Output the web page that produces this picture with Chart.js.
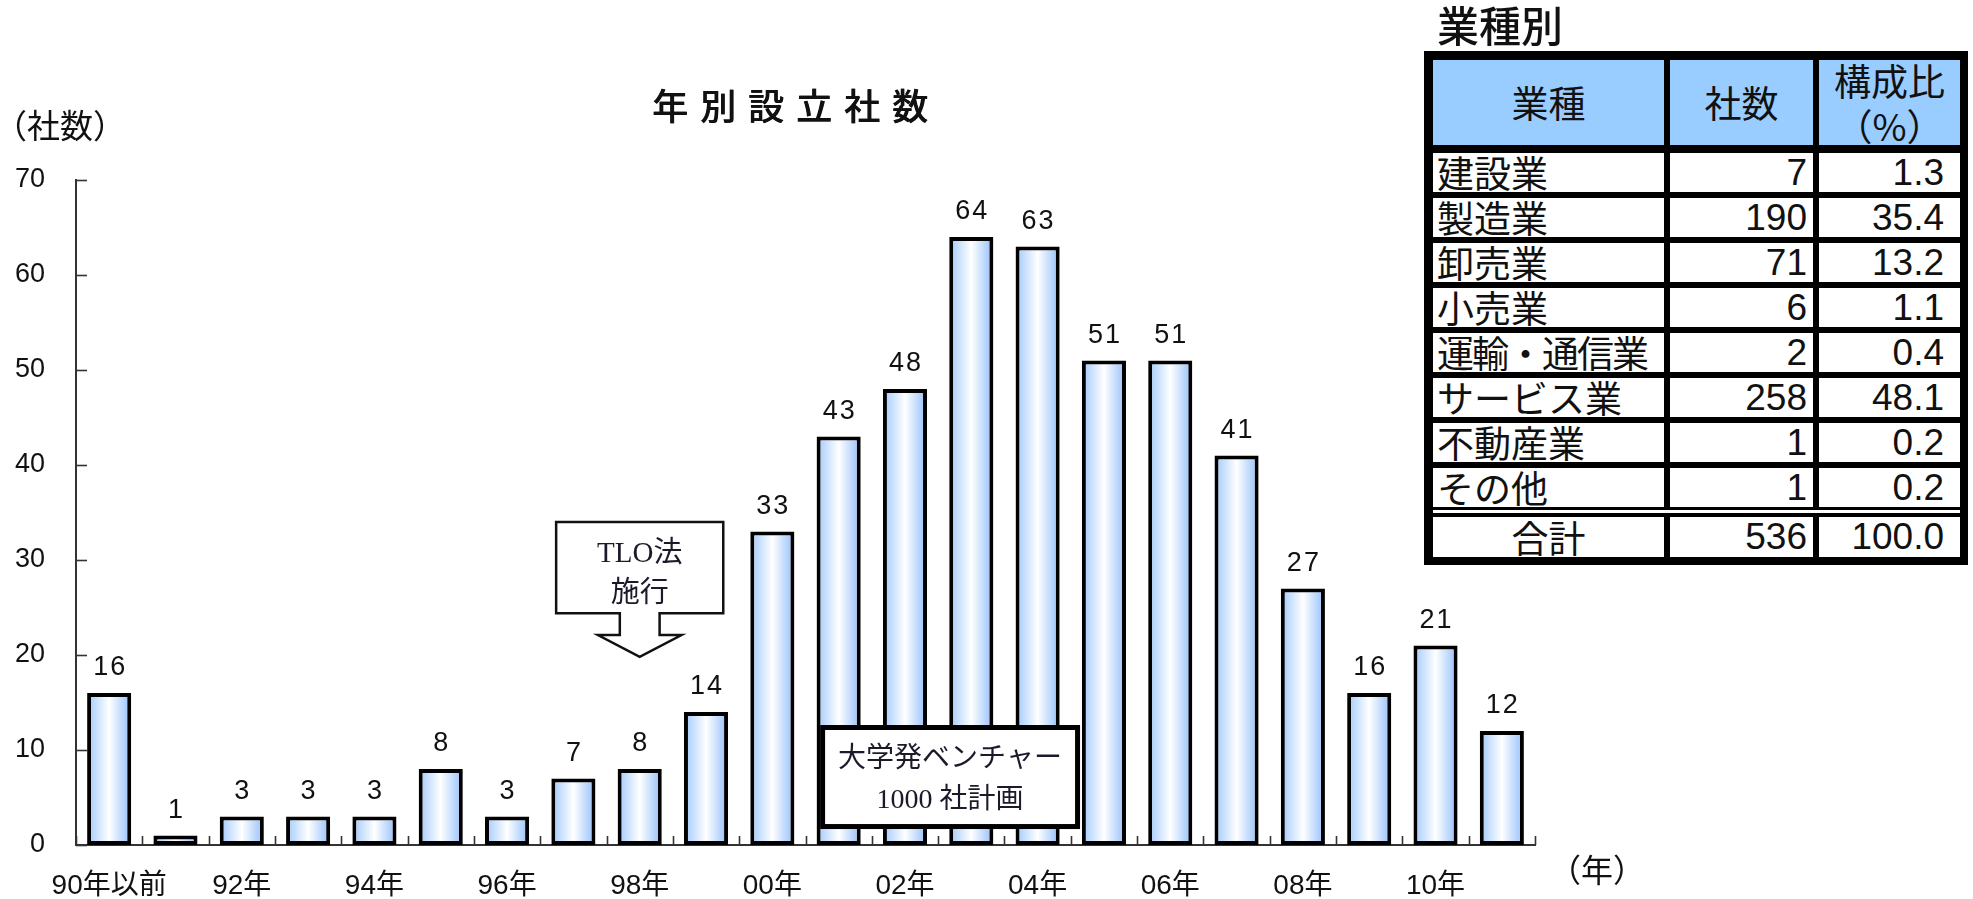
<!DOCTYPE html>
<html lang="ja">
<head>
<meta charset="utf-8">
<title>年別設立社数</title>
<script src="https://cdn.jsdelivr.net/npm/chart.js@4.4.1/dist/chart.umd.min.js"></script>
<style>
  html, body { margin:0; padding:0; background:#fff; }
  body { width:1973px; height:899px; position:relative; overflow:hidden; }
  #chart { position:absolute; left:0; top:0; }
  #tblTitle { position:absolute; left:1437px; top:-2px; font-family:"Noto Sans CJK JP"; font-weight:500; font-size:42px; line-height:52px; color:#111; white-space:nowrap; }
  #tbl { position:absolute; left:1424px; top:51px; width:544px; height:514px; background:#000; }
  #tbl .cell { position:absolute; box-sizing:border-box; overflow:hidden; white-space:nowrap; background:#fff; color:#111; }
  #tbl .hd { background:#99ccff; font-family:"Noto Sans CJK JP"; font-size:37px; display:flex; flex-direction:column; align-items:center; justify-content:center; line-height:45px; }
  #tbl .name { font-family:"Noto Sans CJK JP"; font-size:37px; padding-left:4px; }
  #tbl .tot { text-align:center; padding-left:0; }
  #tbl .num { font-family:"Liberation Sans","Noto Sans CJK JP"; font-size:37px; text-align:right; }
  #tbl .sep { position:absolute; background:#fff; }
</style>
</head>
<body>
<canvas id="chart" width="1973" height="899"></canvas>
<div id="tblTitle"></div>
<div id="tbl"></div>
<script>
// ---------- data ----------
const chartTitle = '年別設立社数';
const yUnitLabel = '（社数）';
const xUnitLabel = '（年）';
const categories = ['90年以前','91年','92年','93年','94年','95年','96年','97年','98年','99年','00年','01年','02年','03年','04年','05年','06年','07年','08年','09年','10年','11年'];
const xTickLabels = ['90年以前','','92年','','94年','','96年','','98年','','00年','','02年','','04年','','06年','','08年','','10年',''];
const counts = [16,1,3,3,3,8,3,7,8,14,33,43,48,64,63,51,51,41,27,16,21,12];
const yTicks = [0,10,20,30,40,50,60,70];

const tableTitle = '業種別';
const tableHeaders = ['業種','社数','構成比\n（%）'];
const industries = ['建設業','製造業','卸売業','小売業','運輸・通信業','サービス業','不動産業','その他'];
const industryCounts = [7,190,71,6,2,258,1,1];
const industryShares = ['1.3','35.4','13.2','1.1','0.4','48.1','0.2','0.2'];
const totalLabel = '合計';
const totalCount = 536;
const totalShare = '100.0';

const tloNoteLines = ['TLO法','施行'];
const ventureNoteLines = ['大学発ベンチャー','1000 社計画'];

// ---------- annotation geometry (in scale units) ----------
const tloNote = { cat:8, tip:19.8, head:22.1, boxBottom:24.4, boxTop:34.0, boxHalf:1.26, headHalf:0.63, stemHalf:0.3, lineVals:[30.6,26.4] };
const ventureNote = { left:10.72, right:14.64, top:12.63, bottom:1.68, lineVals:[8.95,4.7] };

// ---------- styles ----------
const BAR_PCT = 0.665;
const SANS = '"Liberation Sans","Noto Sans CJK JP"';
const CJK = '"Noto Sans CJK JP"';
const SERIF = '"Liberation Serif","Noto Sans CJK JP"';
const AXIS_COLOR = '#333';

const decoPlugin = {
  id: 'deco',
  beforeDatasetsDraw(chart) {
    const { ctx, scales: { x, y }, chartArea: a } = chart;
    ctx.save();
    ctx.strokeStyle = AXIS_COLOR;
    ctx.lineWidth = 1.6;
    yTicks.forEach(v => {
      const py = Math.round(y.getPixelForValue(v)) + 0.5;
      ctx.beginPath(); ctx.moveTo(a.left, py); ctx.lineTo(a.left + 11, py); ctx.stroke();
    });
    for (let i = 0; i <= categories.length; i++) {
      const px = Math.round(x.getPixelForValue(i - 0.5)) + 0.5;
      ctx.beginPath(); ctx.moveTo(px, a.bottom); ctx.lineTo(px, a.bottom - 9); ctx.stroke();
    }
    ctx.restore();
  },
  afterDatasetsDraw(chart) {
    const { ctx, scales: { x, y } } = chart;
    const meta = chart.getDatasetMeta(0);
    ctx.save();
    // value labels
    ctx.fillStyle = '#111';
    ctx.font = '27px ' + SANS;
    ctx.textAlign = 'center';
    ctx.textBaseline = 'alphabetic';
    if ('letterSpacing' in ctx) ctx.letterSpacing = '2px';
    meta.data.forEach((el, i) => {
      ctx.fillText(String(counts[i]), el.x + 1, el.y - 18);
    });
    if ('letterSpacing' in ctx) ctx.letterSpacing = '0px';

    // TLO callout arrow
    const t = tloNote;
    const cx = x.getPixelForValue(t.cat);
    const L = x.getPixelForValue(t.cat - t.boxHalf), R = x.getPixelForValue(t.cat + t.boxHalf);
    const hl = x.getPixelForValue(t.cat - t.headHalf), hr = x.getPixelForValue(t.cat + t.headHalf);
    const sl = x.getPixelForValue(t.cat - t.stemHalf), sr = x.getPixelForValue(t.cat + t.stemHalf);
    const top = y.getPixelForValue(t.boxTop), bot = y.getPixelForValue(t.boxBottom);
    const hy = y.getPixelForValue(t.head), tip = y.getPixelForValue(t.tip);
    ctx.beginPath();
    ctx.moveTo(L, top); ctx.lineTo(R, top); ctx.lineTo(R, bot); ctx.lineTo(sr, bot);
    ctx.lineTo(sr, hy); ctx.lineTo(hr, hy); ctx.lineTo(cx, tip); ctx.lineTo(hl, hy);
    ctx.lineTo(sl, hy); ctx.lineTo(sl, bot); ctx.lineTo(L, bot); ctx.closePath();
    ctx.fillStyle = '#fff'; ctx.fill();
    ctx.strokeStyle = '#111'; ctx.lineWidth = 2.5; ctx.lineJoin = 'miter'; ctx.stroke();
    ctx.fillStyle = '#1a1a2a';
    ctx.font = '29px ' + SERIF;
    ctx.textBaseline = 'middle';
    tloNoteLines.forEach((s, i) => ctx.fillText(s, cx, y.getPixelForValue(t.lineVals[i])));

    // Venture plan box
    const v = ventureNote;
    const vl = x.getPixelForValue(v.left), vr = x.getPixelForValue(v.right);
    const vt = y.getPixelForValue(v.top), vb = y.getPixelForValue(v.bottom);
    const lw = 5;
    ctx.fillStyle = '#fff';
    ctx.fillRect(vl, vt, vr - vl, vb - vt);
    ctx.strokeStyle = '#000'; ctx.lineWidth = lw;
    ctx.strokeRect(vl + lw / 2, vt + lw / 2, vr - vl - lw, vb - vt - lw);
    ctx.fillStyle = '#1a1a2a';
    ctx.font = '28px ' + SERIF;
    const vcx = x.getPixelForValue((v.left + v.right) / 2);
    ventureNoteLines.forEach((s, i) => ctx.fillText(s, vcx, y.getPixelForValue(v.lineVals[i])));
    ctx.restore();
  },
  afterDraw(chart) {
    const { ctx } = chart;
    ctx.save();
    ctx.fillStyle = '#111';
    ctx.textBaseline = 'middle';
    // title
    ctx.font = '500 36px ' + CJK;
    let sp = 0;
    if ('letterSpacing' in ctx) { ctx.letterSpacing = '12px'; sp = 12; }
    const w = ctx.measureText(chartTitle).width - sp;
    ctx.textAlign = 'left';
    ctx.fillText(chartTitle, 790 - w / 2, 106);
    ctx.fillText(chartTitle, 790.6 - w / 2, 106);
    if ('letterSpacing' in ctx) ctx.letterSpacing = '0px';
    // unit labels
    ctx.font = '33px ' + CJK;
    ctx.fillText(yUnitLabel, -6, 125);
    ctx.font = '32px ' + CJK;
    ctx.fillText(xUnitLabel, 1549, 870);
    ctx.restore();
  }
};

const barGradient = (c) => {
  const ch = c.chart, xs = ch.scales && ch.scales.x;
  if (!xs || c.dataIndex === undefined || !isFinite(xs.width)) return '#cfe3ff';
  const cx = xs.getPixelForValue(c.dataIndex);
  const hw = xs.width / categories.length * BAR_PCT / 2;
  const g = ch.ctx.createLinearGradient(cx - hw, 0, cx + hw, 0);
  g.addColorStop(0, '#9fc8fd');
  g.addColorStop(0.5, '#ffffff');
  g.addColorStop(1, '#92befb');
  return g;
};

new Chart(document.getElementById('chart'), {
  type: 'bar',
  data: {
    labels: categories,
    datasets: [{
      data: counts,
      backgroundColor: barGradient,
      borderColor: '#000',
      borderWidth: 4,
      borderSkipped: false,
      barPercentage: BAR_PCT,
      categoryPercentage: 1.0
    }]
  },
  options: {
    responsive: false,
    animation: false,
    devicePixelRatio: 1,
    layout: { padding: { top: 180, right: 438, left: 0, bottom: 0 } },
    plugins: { legend: { display: false }, title: { display: false }, tooltip: { enabled: false } },
    scales: {
      x: {
        grid: { display: false, drawTicks: false },
        border: { display: true, color: AXIS_COLOR, width: 2 },
        ticks: {
          autoSkip: false, maxRotation: 0, minRotation: 0, padding: 24,
          color: '#111', font: { family: SANS, size: 28 },
          callback: (val, i) => xTickLabels[i]
        },
        afterFit: (s) => { s.height = 54; }
      },
      y: {
        min: 0, max: 70,
        afterBuildTicks: (s) => { s.ticks = yTicks.map(v => ({ value: v })); },
        grid: { display: false, drawTicks: false },
        border: { display: true, color: AXIS_COLOR, width: 2 },
        ticks: { padding: 31, color: '#111', font: { family: SANS, size: 27 } },
        afterFit: (s) => { s.width = 76; }
      }
    }
  },
  plugins: [decoPlugin]
});

// ---------- table ----------
document.getElementById('tblTitle').textContent = tableTitle;
const tbl = document.getElementById('tbl');
const colX = [9, 246, 395], colW = [231, 143, 141], padR = [0, 6, 16];
function addCell(cls, x, yy, w, h, content, extraStyle) {
  const d = document.createElement('div');
  d.className = 'cell ' + cls;
  d.style.left = x + 'px'; d.style.top = yy + 'px';
  d.style.width = w + 'px'; d.style.height = h + 'px';
  if (extraStyle) Object.assign(d.style, extraStyle);
  if (cls.indexOf('hd') >= 0) {
    content.split('\n').forEach(s => { const sp = document.createElement('span'); sp.textContent = s; d.appendChild(sp); });
  } else {
    d.textContent = content;
  }
  tbl.appendChild(d);
}
tableHeaders.forEach((h, i) => addCell('hd', colX[i], 9, colW[i], 85, h));
industries.forEach((name, r) => {
  const yy = 102 + 45 * r;
  const nameStyle = { lineHeight: '39px' };
  if (name.indexOf('・') >= 0) nameStyle.letterSpacing = '-2px';
  addCell('name', colX[0], yy, colW[0], 39, name, nameStyle);
  addCell('num', colX[1], yy, colW[1], 39, String(industryCounts[r]), { lineHeight: '39px', paddingRight: padR[1] + 'px' });
  addCell('num', colX[2], yy, colW[2], 39, industryShares[r], { lineHeight: '39px', paddingRight: padR[2] + 'px' });
});
const sep = document.createElement('div');
sep.className = 'sep';
Object.assign(sep.style, { left: '9px', top: '459px', width: '527px', height: '3px' });
tbl.appendChild(sep);
addCell('name tot', colX[0], 466, colW[0], 40, totalLabel, { lineHeight: '40px' });
addCell('num', colX[1], 466, colW[1], 40, String(totalCount), { lineHeight: '40px', paddingRight: padR[1] + 'px' });
addCell('num', colX[2], 466, colW[2], 40, totalShare, { lineHeight: '40px', paddingRight: padR[2] + 'px' });
</script>
</body>
</html>
